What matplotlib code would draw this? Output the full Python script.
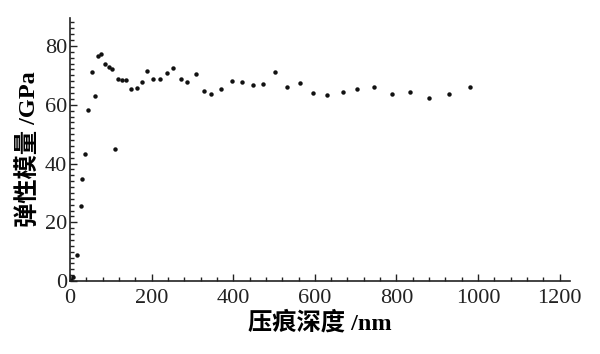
import matplotlib
matplotlib.use("Agg")
import matplotlib.pyplot as plt
from matplotlib.ticker import MultipleLocator

# indentation depth (nm) and elastic modulus (GPa)
depth = [2, 6.6, 18, 26, 29.4, 36.8, 44.9, 53.9, 61.3, 67.9, 76, 85.8, 95.6,
         103.7, 110, 118.4, 128.2, 136.5, 149.5, 165, 175.7, 188, 204, 220.6,
         237, 251.7, 271, 287.5, 309, 329, 345.6, 370, 397.8, 420.8, 447.8,
         473.8, 502.5, 531, 563.7, 596, 630.6, 668, 704, 745.8, 788.5, 833,
         881, 930, 980]
modulus = [0.3, 1.4, 8.8, 25.5, 34.6, 43.2, 58.2, 71.2, 62.9, 76.6, 77.2, 74,
           72.9, 72, 44.8, 68.9, 68.4, 68.4, 65.2, 65.7, 67.6, 71.4, 68.9, 68.9,
           70.9, 72.6, 68.6, 67.8, 70.6, 64.6, 63.8, 65.2, 68, 67.8, 66.7,
           66.9, 71, 66.1, 67.4, 64, 63.3, 64.2, 65.4, 66.1, 63.5, 64.2,
           62.3, 63.8, 65.9]

xticks = [0, 200, 400, 600, 800, 1000, 1200]
yticks = [0, 20, 40, 60, 80]

serif = ["Liberation Serif", "Noto Sans CJK SC"]

fig = plt.figure(figsize=(6, 3.54), dpi=100)
ax = fig.add_axes([0.1167, 0.206, 0.833, 0.743])

ax.plot(depth, modulus, "o", color="#111111", ms=3.2, mec="none")

ax.set_xlim(0, 1225)
ax.set_ylim(0, 89.5)
ax.set_xticks(xticks)
ax.set_yticks(yticks)
ax.xaxis.set_minor_locator(MultipleLocator(40))
ax.yaxis.set_minor_locator(MultipleLocator(2))
ax.tick_params(which="both", direction="in", width=1, colors="#222222",
               labelsize=16)
ax.tick_params(axis="x", pad=6)
ax.tick_params(axis="y", pad=2)
ax.tick_params(which="major", length=5)
ax.tick_params(which="minor", length=3)
for lab in ax.get_xticklabels() + ax.get_yticklabels():
    lab.set_family(serif)

for s in ["top", "right"]:
    ax.spines[s].set_visible(False)
for s in ["left", "bottom"]:
    ax.spines[s].set_linewidth(1.2)
    ax.spines[s].set_color("#222222")

ax.set_xlabel("压痕深度 /nm", family=serif, fontsize=17.5, fontweight="bold",
              labelpad=2)
ax.set_ylabel("弹性模量 /GPa", family=serif, fontsize=17.5, fontweight="bold",
              labelpad=3)

fig.savefig("out.png", dpi=100)
